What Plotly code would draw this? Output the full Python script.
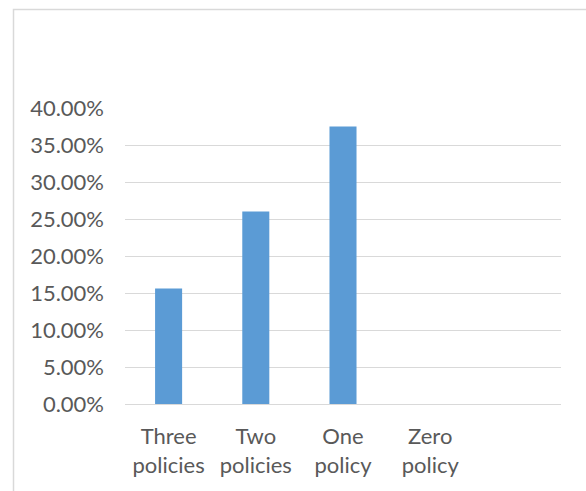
import plotly.graph_objects as go

categories = ["Three<br>policies", "Two<br>policies", "One<br>policy", "Zero<br>policy"]
values = [0.156, 0.260, 0.375, 0.0]
y_ticks = [0, 0.05, 0.10, 0.15, 0.20, 0.25, 0.30, 0.35, 0.40]

positions = list(range(len(categories)))

fig = go.Figure(
    go.Bar(
        x=positions,
        y=values,
        marker=dict(color="#5B9BD5", line=dict(width=0)),
        width=0.31,
    )
)

W, H = 586, 491
L, R, T, B = 125, 25, 108, 87
pw, ph = W - L - R, H - T - B

fig.update_layout(
    width=W,
    height=H,
    margin=dict(l=L, r=R, t=T, b=B),
    paper_bgcolor="white",
    plot_bgcolor="white",
    showlegend=False,
    font=dict(family="Lato, 'Open Sans', sans-serif", size=22, color="#595959"),
    xaxis=dict(
        range=[-0.5, 4.5],
        tickmode="array",
        tickvals=positions,
        ticktext=categories,
        showgrid=False,
        zeroline=False,
        showline=True,
        linecolor="#d9d9d9",
        linewidth=1,
        ticks="",
        ticklabelstandoff=13,
        fixedrange=True,
    ),
    yaxis=dict(
        range=[0, 0.4],
        tickmode="array",
        tickvals=y_ticks,
        tickformat=".2%",
        showgrid=True,
        gridcolor="#d9d9d9",
        gridwidth=1,
        zeroline=False,
        showline=False,
        ticks="",
        ticklabelstandoff=20,
        fixedrange=True,
    ),
    shapes=[
        dict(
            type="rect",
            xref="paper",
            yref="paper",
            x0=(13.5 - L) / pw,
            x1=(W + 5 - L) / pw,
            y0=-(H + 5 - (T + ph)) / ph,
            y1=1 + (T - 9.5) / ph,
            line=dict(color="#d9d9d9", width=1.5),
            fillcolor="rgba(0,0,0,0)",
            layer="below",
        )
    ],
)

fig.write_html("out.html")
